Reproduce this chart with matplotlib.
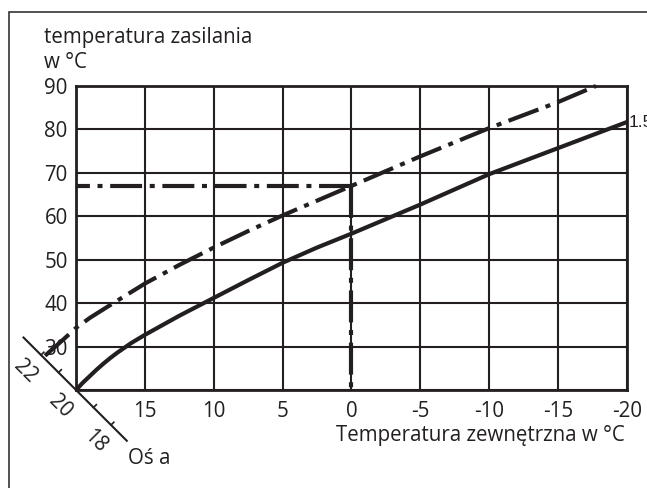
import numpy as np
import matplotlib
matplotlib.use("Agg")
import matplotlib.pyplot as plt
import matplotlib.transforms as mtransforms
from matplotlib.patches import Rectangle

# outdoor temperature grid and tick labels
x_ticks = [20, 15, 10, 5, 0, -5, -10, -15, -20]
x_labels = ["", "15", "10", "5", "0", "-5", "-10", "-15", "-20"]
y_ticks = [20, 30, 40, 50, 60, 70, 80, 90]
y_labels = ["", "30", "40", "50", "60", "70", "80", "90"]

# heating curve 1.5 (solid)
solid_x = [20, 19.5, 19, 18.5, 18, 17.5, 17, 16, 15, 12.5, 10, 7.5, 5, 2.5, 0,
           -5, -10, -15, -20]
solid_y = [20, 21.7, 23.2, 24.7, 26.1, 27.4, 28.6, 30.8, 32.7, 37.1, 41.2, 45.3,
           49.3, 52.8, 56.0, 62.7, 69.7, 75.7, 81.7]

# shifted curve (dash-dot), starts on "Os a" at 22
dd_x = [22.25, 21, 20, 19, 17.5, 15, 12.5, 10, 7.5, 5, 2.5, 0, -5, -10, -15, -17.75]
dd_y = [27.9, 31.4, 34.3, 36.6, 39.6, 44.5, 48.8, 52.8, 56.6, 60.2, 63.6, 67.0,
        73.8, 80.3, 86.3, 90.0]

# reading example: outdoor 0 -> supply 67
read_x = 0
read_y = 67

# room temperature axis ("Os a")
axis_a_ticks = [18, 19, 20, 21, 22]
axis_a_labels = {18: "18", 20: "20", 22: "22"}
axis_a_span = (23.0, 17.1)

INK = "#231f20"
FS = 14.8
plt.rcParams["font.family"] = ["Open Sans", "DejaVu Sans"]
plt.rcParams["lines.scale_dashes"] = False
DASHDOT = (0, (23, 5.5, 3.6, 5.5))

fig = plt.figure(figsize=(6.47, 4.88), dpi=100)
ax = fig.add_axes([0.1175, 0.2008, 0.969 - 0.1175, 0.8238 - 0.2008])

ax.set_xlim(20, -20)
ax.set_ylim(20, 90)
ax.set_xticks(x_ticks)
ax.set_xticklabels(x_labels)
ax.set_yticks(y_ticks)
ax.set_yticklabels(y_labels)
ax.tick_params(length=0, labelsize=FS, colors=INK, pad=6)
ax.tick_params(axis="x", pad=8)
ax.grid(True, color=INK, lw=1.5)
ax.set_axisbelow(True)
for sp in ax.spines.values():
    sp.set_linewidth(2.0)
    sp.set_color(INK)

ax.plot(solid_x, solid_y, color=INK, lw=3.0, solid_capstyle="butt", solid_joinstyle="round")
ax.plot(dd_x, dd_y, color=INK, lw=3.0, linestyle=DASHDOT, clip_on=False)
ax.plot([read_x, 20], [read_y, read_y], color=INK, lw=3.0, linestyle=DASHDOT)
ax.plot([read_x, read_x], [read_y, 20], color=INK, lw=3.0, linestyle=DASHDOT)

# curve label, cut by the right edge as in the original
ax.annotate("1.5", xy=(solid_x[-1], solid_y[-1]), xytext=(1, 0),
            textcoords="offset points", va="center", ha="left",
            fontsize=12.5, color=INK, annotation_clip=False,
            family=["Liberation Sans", "DejaVu Sans"])

# diagonal room temperature axis, drawn in inches around the (20, 20) corner
diag = fig.dpi_scale_trans + mtransforms.ScaledTranslation(20, 20, ax.transData)
s = 0.175
def diag_pos(r):
    return -(r - 20) * s, (r - 20) * s

p0 = diag_pos(axis_a_span[0])
p1 = diag_pos(axis_a_span[1])
ax.plot([p0[0], p1[0]], [p0[1], p1[1]], color=INK, lw=1.5, transform=diag, clip_on=False)
for r in axis_a_ticks:
    px, py = diag_pos(r)
    ax.plot([px, px + 0.028], [py, py + 0.028], color=INK, lw=1.2,
            transform=diag, clip_on=False)
    if r in axis_a_labels:
        ax.text(px - 0.16, py - 0.16, axis_a_labels[r], rotation=-45,
                ha="center", va="center", fontsize=FS, color=INK,
                transform=diag, rotation_mode="anchor")

fig.text(128 / 647, 1 - 458 / 488, "Oś a", fontsize=FS, color=INK, va="center", ha="left")
fig.text(0.068, 1 - 43 / 488, "temperatura zasilania", fontsize=FS, color=INK, va="baseline")
fig.text(0.068, 1 - 68 / 488, "w °C", fontsize=FS, color=INK, va="baseline")
fig.text(625 / 647, 1 - 436 / 488, "Temperatura zewnętrzna w °C", fontsize=FS,
         color=INK, va="center", ha="right")

fig.add_artist(Rectangle((9 / 647, -0.1), 2, 1 - 12 / 488 + 0.1, fill=False,
                         lw=1.2, ec="#333333", transform=fig.transFigure))

fig.savefig("out.png", dpi=100)
